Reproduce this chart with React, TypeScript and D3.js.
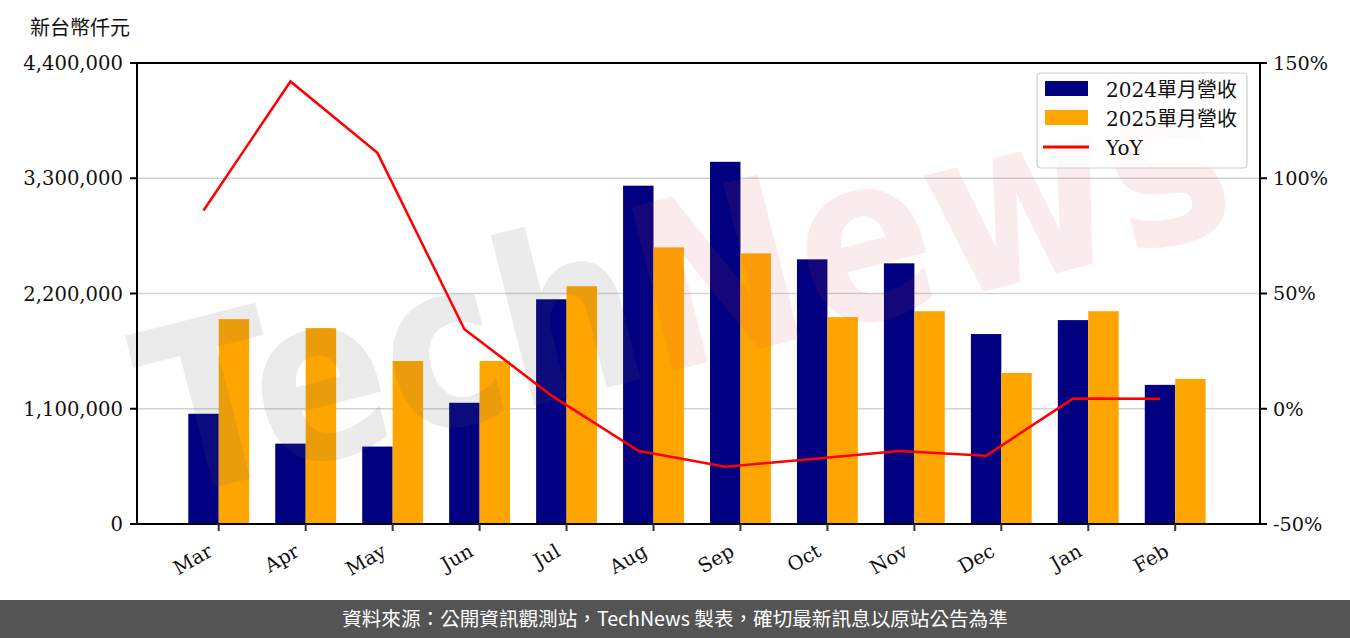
import React from "react";
import * as d3 from "d3";

// monthly revenue, NT$ thousand
const months = ["Mar", "Apr", "May", "Jun", "Jul", "Aug", "Sep", "Oct", "Nov", "Dec", "Jan", "Feb"];
const rev2024 = [1052000, 767000, 739000, 1157000, 2145000, 3229000, 3457000, 2526000, 2488000, 1813000, 1946000, 1328000];
const rev2025 = [1955000, 1870000, 1556000, 1556000, 2269000, 2640000, 2583000, 1974000, 2031000, 1442000, 2031000, 1385000];
const yoy = [86.0, 142.0, 111.0, 34.5, 5.8, -18.2, -25.2, -21.8, -18.3, -20.4, 4.4, 4.3];

const leftTicks = [0, 1100000, 2200000, 3300000, 4400000];
const rightTicks = [-50, 0, 50, 100, 150];
const legendItems = [
  { label: "2024單月營收", color: "#000080", kind: "bar" },
  { label: "2025單月營收", color: "#ffa500", kind: "bar" },
  { label: "YoY", color: "#ff0000", kind: "line" },
];

const FONT = "'DejaVu Serif', 'Noto Sans CJK TC', serif";
const SANS = "'Noto Sans CJK TC', 'Noto Sans', sans-serif";

export default function App() {
  const W = 1350;
  const H = 638;
  const m = { left: 137, right: 1260, top: 63, bottom: 524 };
  const barW = 0.35;

  const x = d3.scaleLinear().domain([-0.765, 12.15]).range([m.left, m.right]);
  const yL = d3.scaleLinear().domain([0, 4400000]).range([m.bottom, m.top]);
  const yR = d3.scaleLinear().domain([-50, 150]).range([m.bottom, m.top]);
  const bw = x(barW) - x(0);
  const fmt = d3.format(",");

  const line = d3
    .line<number>()
    .x((_, i) => x(i))
    .y((d) => yR(d));

  return (
    <svg
      width={W}
      height={H}
      style={{ position: "absolute", left: 0, top: 0, background: "#fff" }}
      fontFamily={FONT}
    >
      <rect width={W} height={H} fill="#fff" />

      {/* unit label */}
      <text x={30} y={35} fontSize={20} fill="#111">新台幣仟元</text>

      {/* gridlines */}
      {leftTicks.map((t) => (
        <line key={"g" + t} x1={m.left} x2={m.right} y1={yL(t)} y2={yL(t)} stroke="#d3d3d3" strokeWidth={1.6} />
      ))}

      {/* bars */}
      {rev2024.map((v, i) => (
        <rect key={"a" + i} x={x(i) - bw / 2} y={yL(v)} width={bw} height={yL(0) - yL(v)} fill="#000080" />
      ))}
      {rev2025.map((v, i) => (
        <rect key={"b" + i} x={x(i + barW) - bw / 2} y={yL(v)} width={bw} height={yL(0) - yL(v)} fill="#ffa500" />
      ))}

      {/* watermark */}
      <g transform="translate(166,500) rotate(-14.3) scale(0.86,1)" fontFamily="'DejaVu Sans', sans-serif" fontWeight="bold" fontSize={232}>
        <text>
          <tspan fill="#5a5a5a" fillOpacity={0.12}>Tech</tspan>
          <tspan fill="#d04040" fillOpacity={0.1}>News</tspan>
        </text>
      </g>

      {/* yoy line */}
      <path d={line(yoy) || ""} fill="none" stroke="#ff0000" strokeWidth={2.5} />

      {/* spines */}
      <rect x={m.left} y={m.top} width={m.right - m.left} height={m.bottom - m.top} fill="none" stroke="#000" strokeWidth={2} />

      {/* left axis */}
      {leftTicks.map((t) => (
        <g key={"l" + t} transform={`translate(${m.left},${yL(t)})`}>
          <line x1={-7} x2={0} stroke="#000" strokeWidth={2} />
          <text x={-14} dy="0.36em" textAnchor="end" fontSize={19.6} fill="#111">{fmt(t)}</text>
        </g>
      ))}

      {/* right axis */}
      {rightTicks.map((t) => (
        <g key={"r" + t} transform={`translate(${m.right},${yR(t)})`}>
          <line x1={0} x2={7} stroke="#000" strokeWidth={2} />
          <text x={13} dy="0.36em" fontSize={19.3} fill="#111">{t + "%"}</text>
        </g>
      ))}

      {/* x axis */}
      {months.map((mo, i) => {
        const tx = x(i + barW / 2);
        return (
          <g key={mo}>
            <line x1={tx} x2={tx} y1={m.bottom} y2={m.bottom + 7} stroke="#333" strokeWidth={2} />
            <text
              transform={`translate(${tx - 5},${m.bottom + 31}) rotate(-30)`}
              textAnchor="end"
              fontSize={19.5}
              fill="#111"
            >
              {mo}
            </text>
          </g>
        );
      })}

      {/* legend */}
      <g transform="translate(1037,73)">
        <rect width={210} height={95} rx={4} fill="#fff" fillOpacity={0.8} stroke="#cccccc" strokeWidth={1.2} />
        {legendItems.map((it, i) => (
          <g key={it.label} transform={`translate(0,${16 + i * 29})`}>
            {it.kind === "bar" ? (
              <rect x={8} y={-8} width={43} height={15} fill={it.color} />
            ) : (
              <line x1={6} x2={52} y1={0} y2={0} stroke={it.color} strokeWidth={3} />
            )}
            <text x={69} y={7.5} fontSize={20} fill="#111">{it.label}</text>
          </g>
        ))}
      </g>

      {/* footer */}
      <rect x={0} y={600} width={W} height={38} fill="#545454" />
      <text x={675} y={626} textAnchor="middle" fontFamily={SANS} fontSize={19.6} fill="#fff">
        資料來源：公開資訊觀測站，TechNews 製表，確切最新訊息以原站公告為準
      </text>
    </svg>
  );
}
